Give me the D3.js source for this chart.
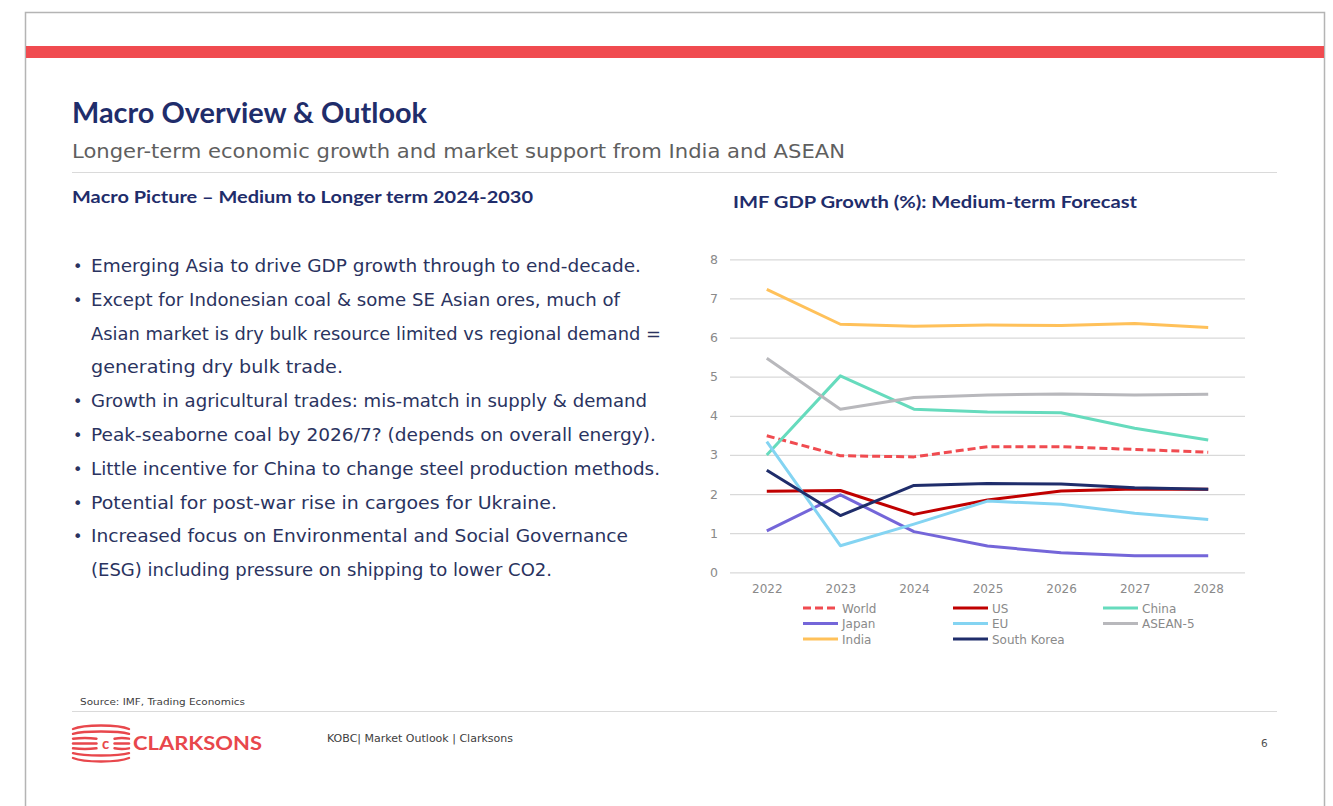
<!DOCTYPE html>
<html>
<head>
<meta charset="utf-8">
<script src="https://cdn.jsdelivr.net/npm/d3@7"></script>
<style>
  body { margin: 0; background: #fff; }
  svg { display: block; }
  text { font-family: "DejaVu Sans", "Noto Sans", sans-serif; }
  .hd { font-family: Lato, "Open Sans", sans-serif; font-weight: bold; }
</style>
</head>
<body>
<svg id="slide" width="1333" height="806"></svg>
<script>
// ---- Chart data: IMF GDP growth (%) medium-term forecast ----
const years = ["2022", "2023", "2024", "2025", "2026", "2027", "2028"];
const yTicks = [0, 1, 2, 3, 4, 5, 6, 7, 8];

const world      = [3.49, 2.98, 2.95, 3.21, 3.21, 3.14, 3.07];
const us         = [2.07, 2.09, 1.48, 1.85, 2.08, 2.13, 2.12];
const china      = [3.00, 5.02, 4.17, 4.10, 4.08, 3.68, 3.38];
const japan      = [1.06, 1.98, 1.04, 0.67, 0.50, 0.42, 0.42];
const eu         = [3.34, 0.68, 1.23, 1.82, 1.74, 1.51, 1.35];
const asean5     = [5.47, 4.17, 4.47, 4.53, 4.56, 4.53, 4.55];
const india      = [7.23, 6.34, 6.29, 6.32, 6.31, 6.36, 6.26];
const southKorea = [2.61, 1.45, 2.22, 2.27, 2.26, 2.16, 2.12];

const seriesNames = ["World", "US", "China", "Japan", "EU", "ASEAN-5", "India", "South Korea"];
const seriesValues = [world, us, china, japan, eu, asean5, india, southKorea];

// ---- Slide text ----
const bulletLines = [
  { text: "Emerging Asia to drive GDP growth through to end-decade.", bullet: true },
  { text: "Except for Indonesian coal & some SE Asian ores, much of", bullet: true },
  { text: "Asian market is dry bulk resource limited vs regional demand =", bullet: false },
  { text: "generating dry bulk trade.", bullet: false },
  { text: "Growth in agricultural trades: mis-match in supply & demand", bullet: true },
  { text: "Peak-seaborne coal by 2026/7? (depends on overall energy).", bullet: true },
  { text: "Little incentive for China to change steel production methods.", bullet: true },
  { text: "Potential for post-war rise in cargoes for Ukraine.", bullet: true },
  { text: "Increased focus on Environmental and Social Governance", bullet: true },
  { text: "(ESG) including pressure on shipping to lower CO2.", bullet: false }
];

// ---- Styles ----
const NAVY = "#1f2d6b";
const RED = "#f04b50";
const LOGO_RED = "#e8474c";
const seriesStyle = {
  "World":       { color: "#f04b50", dash: "8,4" },
  "US":          { color: "#c00000", dash: null },
  "China":       { color: "#66dbbd", dash: null },
  "Japan":       { color: "#7466d9", dash: null },
  "EU":          { color: "#84d4f2", dash: null },
  "ASEAN-5":     { color: "#b8b8bc", dash: null },
  "India":       { color: "#ffc15a", dash: null },
  "South Korea": { color: "#1f2d6b", dash: null }
};

const svg = d3.select("#slide");

// fit a text element to a given width
function fit(sel, w) {
  sel.attr("textLength", w).attr("lengthAdjust", "spacingAndGlyphs");
  return sel;
}

// ---- Slide frame & red banner ----
svg.append("path")
  .attr("d", "M25.5,806 V12.5 H1324.5 V806")
  .attr("fill", "none").attr("stroke", "#b4b4b4").attr("stroke-width", 1.5);
svg.append("rect").attr("x", 26).attr("y", 46).attr("width", 1298).attr("height", 12).attr("fill", RED);

// ---- Headings ----
fit(svg.append("text").attr("class", "hd").attr("x", 72).attr("y", 123)
  .attr("font-size", 28).attr("fill", NAVY)
  .text("Macro Overview & Outlook"), 355);
fit(svg.append("text").attr("x", 72).attr("y", 158)
  .attr("font-size", 20).attr("fill", "#5f5f5f")
  .text("Longer-term economic growth and market support from India and ASEAN"), 773);
svg.append("line").attr("x1", 72).attr("x2", 1277).attr("y1", 172.5).attr("y2", 172.5)
  .attr("stroke", "#dadada").attr("stroke-width", 1);
fit(svg.append("text").attr("class", "hd").attr("x", 72).attr("y", 203)
  .attr("font-size", 17.5).attr("fill", NAVY)
  .text("Macro Picture – Medium to Longer term 2024-2030"), 461);

// ---- Bullet list ----
const bulletWidths = [550, 529, 570, 252, 556, 565, 569, 466, 537, 461];
const bulletG = svg.append("g");
bulletLines.forEach((d, i) => {
  const y = 272 + i * 33.8;
  if (d.bullet) {
    bulletG.append("text").attr("x", 73).attr("y", y).attr("font-size", 16)
      .attr("fill", "#2a3360").text("•");
  }
  fit(bulletG.append("text").attr("x", 91).attr("y", y).attr("font-size", 17)
    .attr("fill", "#2a3360").text(d.text), bulletWidths[i]);
});

// ---- Chart ----
fit(svg.append("text").attr("class", "hd").attr("x", 733).attr("y", 208)
  .attr("font-size", 17.5).attr("fill", NAVY)
  .text("IMF GDP Growth (%): Medium-term Forecast"), 404);

const plot = { left: 730, right: 1245, top: 259.3, bottom: 572.3 };
const x = d3.scalePoint().domain(years).range([plot.left, plot.right]).padding(0.5);
const y = d3.scaleLinear().domain([0, 8]).range([plot.bottom, plot.top]);

const yAxis = svg.append("g")
  .attr("transform", `translate(${plot.left},0)`)
  .call(d3.axisLeft(y).tickValues(yTicks).tickSize(-(plot.right - plot.left)).tickPadding(12));
yAxis.select(".domain").remove();
yAxis.selectAll(".tick line").attr("stroke", "#d9d9d9").attr("stroke-width", 1.2);
yAxis.selectAll(".tick text").attr("fill", "#8a8a8a").attr("font-size", 12.5)
  .attr("font-family", "DejaVu Sans, sans-serif");

const xAxis = svg.append("g")
  .attr("transform", `translate(0,${plot.bottom})`)
  .call(d3.axisBottom(x).tickSize(0).tickPadding(12));
xAxis.select(".domain").remove();
xAxis.selectAll(".tick text").attr("fill", "#8a8a8a").attr("font-size", 12)
  .attr("font-family", "DejaVu Sans, sans-serif");

const line = d3.line()
  .x((d, i) => x(years[i]))
  .y(d => y(d));

const linesG = svg.append("g");
seriesNames.forEach((name, k) => {
  const st = seriesStyle[name];
  linesG.append("path")
    .datum(seriesValues[k])
    .attr("d", line)
    .attr("fill", "none")
    .attr("stroke", st.color)
    .attr("stroke-width", 3)
    .attr("stroke-linejoin", "round")
    .attr("stroke-dasharray", st.dash);
});

// ---- Legend (3 columns) ----
const legendG = svg.append("g");
seriesNames.forEach((name, k) => {
  const col = k % 3, row = Math.floor(k / 3);
  const lx = 803 + col * 150, ly = 608 + row * 15.5;
  const st = seriesStyle[name];
  legendG.append("line")
    .attr("x1", lx).attr("x2", lx + 35).attr("y1", ly).attr("y2", ly)
    .attr("stroke", st.color).attr("stroke-width", 3)
    .attr("stroke-dasharray", st.dash);
  legendG.append("text")
    .attr("x", lx + 39).attr("y", ly + 4.5)
    .attr("font-size", 12).attr("fill", "#8a8a8a")
    .text(name);
});

// ---- Footer ----
fit(svg.append("text").attr("x", 80).attr("y", 705).attr("font-size", 9.5).attr("fill", "#404040")
  .text("Source: IMF, Trading Economics"), 165);
svg.append("line").attr("x1", 72).attr("x2", 1277).attr("y1", 711.5).attr("y2", 711.5)
  .attr("stroke", "#dadada").attr("stroke-width", 1);

// Clarksons logo: stacked waves around a "c"
const logo = svg.append("g").attr("stroke", LOGO_RED).attr("fill", "none")
  .attr("stroke-width", 2.4).attr("stroke-linecap", "round");
const waveRows = [-14.5, -9.7, -4.8, 0, 4.8, 9.7, 14.5];
waveRows.forEach(off => {
  const cy = 743.5 + off;
  const bend = off * 0.32;
  if (Math.abs(off) > 7) {
    logo.append("path").attr("d", `M73,${cy} C84,${cy + bend} 118,${cy + bend} 129,${cy}`);
  } else {
    logo.append("path").attr("d", `M73,${cy} Q85,${cy + bend} 96.5,${cy}`);
    logo.append("path").attr("d", `M114.5,${cy} Q122,${cy + bend} 129,${cy}`);
  }
});
svg.append("text").attr("class", "hd").attr("x", 105.5).attr("y", 748.5).attr("text-anchor", "middle")
  .attr("font-size", 15).attr("fill", LOGO_RED).text("c");
fit(svg.append("text").attr("class", "hd").attr("x", 133).attr("y", 750)
  .attr("font-size", 18).attr("fill", LOGO_RED)
  .text("CLARKSONS"), 129);

fit(svg.append("text").attr("x", 327).attr("y", 742).attr("font-size", 10.5).attr("fill", "#404040")
  .text("KOBC| Market Outlook | Clarksons"), 186);
svg.append("text").attr("x", 1261).attr("y", 747).attr("font-size", 10.5).attr("fill", "#505050")
  .text("6");
</script>
</body>
</html>
